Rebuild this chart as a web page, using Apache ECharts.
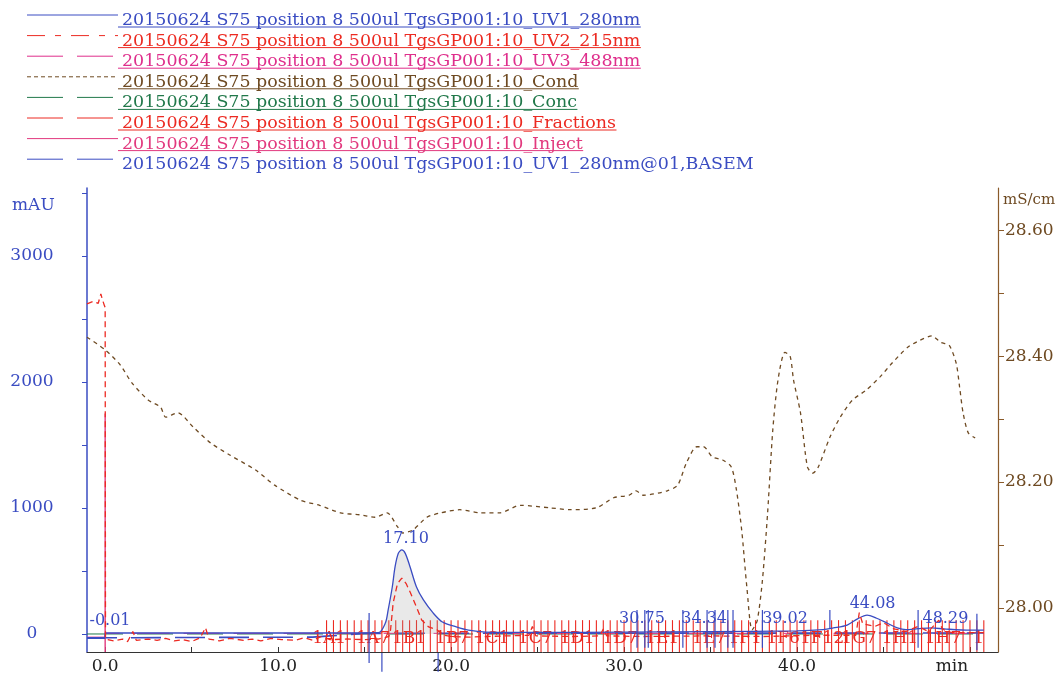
<!DOCTYPE html>
<html><head><meta charset="utf-8">
<script src="https://cdn.jsdelivr.net/npm/echarts@6/dist/echarts.min.js"></script>
<style>html,body{margin:0;padding:0;background:#fff}#c{width:1063px;height:679px}</style>
</head><body><div id="c"></div>
<script>
// ---------------- data ----------------
const legendNames = [
  '20150624 S75 position 8 500ul TgsGP001:10_UV1_280nm',
  '20150624 S75 position 8 500ul TgsGP001:10_UV2_215nm',
  '20150624 S75 position 8 500ul TgsGP001:10_UV3_488nm',
  '20150624 S75 position 8 500ul TgsGP001:10_Cond',
  '20150624 S75 position 8 500ul TgsGP001:10_Conc',
  '20150624 S75 position 8 500ul TgsGP001:10_Fractions',
  '20150624 S75 position 8 500ul TgsGP001:10_Inject',
  '20150624 S75 position 8 500ul TgsGP001:10_UV1_280nm@01,BASEM'
];
const xTickValues = [0,5,10,15,20,25,30,35,40,45,50];
const xLabelValues = [0,10,20,30,40,50];
const leftTickValues = [0,500,1000,1500,2000,2500,3000,3500];
const leftLabelValues = [0,1000,2000,3000];
const rightTickValues = [28.0,28.1,28.2,28.3,28.4,28.5,28.6];
const rightLabelValues = [28.0,28.2,28.4,28.6];

const uv1T = [-1.05,-0.02,0,5,10,14,15.8,16.2,16.36,16.6,16.76,16.95,17.15,17.35,17.63,18.0,18.4,18.96,19.5,20.3,21.0,22.0,25,30,35,40,41.5,42.1,42.9,43.5,44.05,44.6,45.2,45.8,46.3,47.0,47.8,48.5,50,50.8];
const uv1V = [-35,-35,8,8,8,8,10,87,190,373,532,640,667,640,532,373,270,167,95,56,30,15,12,15,18,25,35,48,71,120,150,125,87,48,35,42,48,40,30,30];

const uv2T = [-1.05,-0.7,-0.4,-0.25,-0.15,-0.05,0,0.02,0.5,1.0,1.3,1.6,1.8,2.5,3.0,3.5,4.0,4.5,5.0,5.5,5.8,6.0,6.6,7.2,8.0,8.5,9.0,9.6,10.2,11.0,11.5,12.0,12.5,13.0,14.0,15.0,15.8,
  16.4,16.5,16.65,16.9,17.15,17.4,17.63,18.0,18.3,18.7,19.2,19.6,
  20.0,21.0,22.0,24.5,24.7,24.9,27.0,28.6,28.8,29.0,31.0,35.0,38.0,41.0,43.4,43.6,43.8,44.5,45.0,45.6,46.3,47.0,47.6,48.2,48.4,48.7,49.0,50.0,50.8];
const uv2V = [2620,2640,2625,2700,2650,2610,2590,-40,-55,-40,-60,20,-50,-40,-50,-35,-55,-45,-60,-30,50,-40,-55,-35,-50,-40,-55,-35,-45,-50,-30,-50,-20,-45,-40,-45,-40,
  -20,32,246,400,444,400,333,214,111,56,32,-10,
  -20,-25,-20,-10,60,-15,-20,-15,40,-15,-20,-15,-20,-10,-10,170,80,60,90,40,20,60,20,110,40,20,10,10,10];

const uv3T = [-1.05,0,0.02,50.8];
const uv3V = [-25,-25,5,5];
const concT = [-1.05,50.8];
const concV = [0,0];
const basemT = [-1.05,0,0.02,12,15,50.8];
const basemV = [-30,-30,-25,-25,5,8];
const injectT = [0,0];
const injectV = [-143,1750];

const condT = [-1.05,0,0.87,1.56,2.5,3.2,3.5,4.2,5.1,6.1,7.2,8.7,9.8,11.3,12.4,13.6,14.7,15.6,16.3,16.9,17.2,17.8,18.6,19.4,20.5,21.7,22.8,24.0,25.7,26.9,28.4,29.4,30.3,30.7,31.1,32.5,33.1,33.6,34.2,34.6,35.1,35.7,36.2,36.5,36.8,37.1,37.4,37.7,38.0,38.3,38.6,38.9,39.3,39.6,39.8,40.2,40.6,40.9,41.2,41.9,42.5,43.2,44.0,44.8,45.5,46.4,47.1,47.8,48.3,48.8,49.2,49.4,49.6,49.9,50.3];
const condV = [28.430,28.410,28.386,28.357,28.330,28.319,28.303,28.310,28.287,28.262,28.243,28.219,28.195,28.171,28.163,28.151,28.148,28.144,28.151,28.129,28.119,28.124,28.144,28.151,28.156,28.151,28.151,28.163,28.159,28.156,28.159,28.175,28.179,28.186,28.179,28.186,28.195,28.230,28.256,28.256,28.240,28.235,28.224,28.187,28.124,28.033,27.965,27.980,28.044,28.151,28.283,28.362,28.406,28.400,28.362,28.310,28.224,28.214,28.222,28.271,28.303,28.330,28.346,28.367,28.389,28.414,28.425,28.432,28.422,28.417,28.389,28.351,28.310,28.278,28.270];

const fractionTimes = [12.8,13.2,13.6,14.0,14.4,14.8,15.2,15.6,16.0,16.4,16.8,17.2,17.6,18.0,18.4,18.8,19.2,19.6,20.0,20.4,20.8,21.2,21.6,22.0,22.4,22.8,23.2,23.6,24.0,24.4,24.8,25.2,25.6,26.0,26.4,26.8,27.2,27.6,28.0,28.4,28.8,29.2,29.6,30.0,30.4,30.8,31.2,31.6,32.0,32.4,32.8,33.2,33.6,34.0,34.4,34.8,35.2,35.6,36.0,36.4,36.8,37.2,37.6,38.0,38.4,38.8,39.2,39.6,40.0,40.4,40.8,41.2,41.6,42.0,42.4,42.8,43.2,43.6,44.0,44.4,44.8,45.2,45.6,46.0,46.4,46.8,47.2,47.6,48.0,48.4,48.8,49.2,49.6,50.0,50.4,50.8];
const fractionLabels = ['1A1','1A7','1B1','1B7','1C1','1C7','1D1','1D7','1E1','1E7','1F1','1F6','1F12','1G7','1H1','1H7','1'];
const fractionLabelTimes = [12.95,15.49,17.57,20.06,22.37,24.86,27.28,29.77,32.20,34.91,37.0,39.2,41.45,43.58,45.95,48.44,50.5];

const peakTimes = [-0.01,17.10,30.75,34.34,39.02,44.08,48.29];
const peakHeights = [20,667,30,30,30,150,30];

// peak boundary markers [time, low mAU, high mAU]
const peakMarkers = [[15.26,-230,167],[16.0,-300,-150],[19.25,-300,-150],[30.75,-110,190],[31.2,-110,190],[31.4,-110,190],[33.4,-110,190],[34.8,-110,190],[35.26,-110,190],[36.0,-110,190],[36.3,-110,190],[38.0,-110,190],[41.9,40,190],[47.0,-110,190],[50.4,-130,160]];

// ---------------- styles ----------------
const BLUE = '#3a4cc2', RED = '#ec2a22', MAG = '#df2f8c', BROWN = '#6e4a22', GREEN = '#21784a', PINK = '#e2397e';
const FONT = '"DejaVu Serif", "Liberation Serif", serif';
const legendStyles = [
  {color: BLUE, dash: null, underline: true},
  {color: RED, dash: [18,10,6,10], underline: true},
  {color: MAG, dash: [36,14], underline: true},
  {color: BROWN, dash: [4,3], underline: true},
  {color: GREEN, dash: [36,14], underline: true},
  {color: RED, dash: [36,14], underline: true},
  {color: PINK, dash: null, underline: true},
  {color: BLUE, dash: [36,14], underline: false}
];
const FRAC_LO = -143, FRAC_HI = 110, FRAC_LABEL_LEVEL = -40;

const zip = (a, b) => a.map((t, i) => [t, b[i]]);

// legend graphics
const ctx = document.createElement('canvas').getContext('2d');
function tw(txt, size) { ctx.font = size + 'px ' + FONT; return ctx.measureText(txt).width; }
const legFs = Math.max(12, Math.min(22, 17 * 519 / tw(legendNames[0], 17)));
const graphics = [];
legendNames.forEach((name, i) => {
  const y0 = 15 + 20.6 * i;
  const st = legendStyles[i];
  graphics.push({type: 'line', silent: true, shape: {x1: 27, y1: y0, x2: 118, y2: y0},
    style: {stroke: st.color, lineWidth: 1, lineDash: st.dash}});
  graphics.push({type: 'text', silent: true, x: 122, y: y0 + 5.5,
    style: {text: name, fill: st.color, font: legFs.toFixed(2) + 'px ' + FONT, textAlign: 'left', textVerticalAlign: 'middle'}});
  if (st.underline) {
    const w = tw(name, legFs);
    graphics.push({type: 'line', silent: true, shape: {x1: 118, y1: y0 + 12, x2: 122 + w, y2: y0 + 12},
      style: {stroke: st.color, lineWidth: 1}});
  }
});
graphics.push({type: 'text', silent: true, x: 12, y: 206,
  style: {text: 'mAU', fill: BLUE, font: '17px ' + FONT, textAlign: 'left', textVerticalAlign: 'middle'}});
graphics.push({type: 'text', silent: true, x: 1003, y: 200,
  style: {text: 'mS/cm', fill: BROWN, font: '15px ' + FONT, textAlign: 'left', textVerticalAlign: 'middle'}});

const vlineRender = (color, width) => function (params, api) {
  const t = api.value(0);
  const p1 = api.coord([t, api.value(1)]);
  const p2 = api.coord([t, api.value(2)]);
  return {type: 'line', shape: {x1: p1[0], y1: p1[1], x2: p2[0], y2: p2[1]},
    style: {stroke: color, lineWidth: width}};
};

const peakFill = zip(uv1T, uv1V).filter(p => p[0] >= 16.2 && p[0] <= 19.5);

const option = {
  animation: false,
  backgroundColor: '#fff',
  grid: {left: 87, right: 65, top: 188, bottom: 27, containLabel: false, outerBoundsMode: 'none'},
  xAxis: {
    type: 'value', min: -1.05, max: 51.62,
    axisLine: {show: true, onZero: false, lineStyle: {color: '#333', width: 1}},
    axisTick: {show: true, inside: true, length: 5, customValues: xTickValues, lineStyle: {color: '#333'}},
    axisLabel: {show: true, customValues: xLabelValues, margin: 6, color: '#222', fontFamily: FONT, fontSize: 17,
      formatter: v => v === 50 ? '{m|min}' : v.toFixed(1),
      rich: {m: {fontFamily: FONT, fontSize: 17, color: '#222', padding: [0, 36, 0, 0]}}},
    splitLine: {show: false}
  },
  yAxis: [
    {
      type: 'value', position: 'left', min: -143, max: 3540,
      axisLine: {show: true, onZero: false, lineStyle: {color: BLUE, width: 1.5}},
      axisTick: {show: true, inside: false, length: 5, customValues: leftTickValues, lineStyle: {color: BLUE}},
      axisLabel: {show: true, customValues: leftLabelValues, align: 'center', margin: 55, color: BLUE, fontFamily: FONT, fontSize: 17,
        formatter: v => String(Math.round(v))},
      splitLine: {show: false}
    },
    {
      type: 'value', position: 'right', min: 27.930, max: 28.667,
      axisLine: {show: true, onZero: false, lineStyle: {color: '#8a5a2a', width: 1.2}},
      axisTick: {show: true, inside: false, length: 6, customValues: rightTickValues, lineStyle: {color: '#8a5a2a'}},
      axisLabel: {show: true, customValues: rightLabelValues, margin: 7, color: BROWN, fontFamily: FONT, fontSize: 17,
        formatter: v => v.toFixed(2)},
      splitLine: {show: false}
    }
  ],
  graphic: graphics,
  series: [
    {name: legendNames[4], type: 'line', data: zip(concT, concV), symbol: 'none', lineStyle: {color: GREEN, width: 1, type: [36,14]}, z: 2},
    {name: legendNames[2], type: 'line', data: zip(uv3T, uv3V), symbol: 'none', lineStyle: {color: MAG, width: 1, type: [36,14]}, z: 2},
    {name: legendNames[7], type: 'line', data: zip(basemT, basemV), symbol: 'none', lineStyle: {color: BLUE, width: 1.6, type: [30,14]}, z: 2},
    {name: legendNames[5], type: 'custom', clip: false, z: 3,
      data: fractionTimes.map(t => [t, FRAC_LO, FRAC_HI]),
      encode: {x: 0, y: [1, 2]},
      renderItem: vlineRender(RED, 1.1)},
    {name: legendNames[6], type: 'line', data: zip(injectT, injectV), symbol: 'none', lineStyle: {color: PINK, width: 1.4}, z: 3},
    {name: 'peak area', type: 'line', data: peakFill, symbol: 'none', smooth: 0.3, lineStyle: {width: 0},
      areaStyle: {color: '#9a9a9a', opacity: 0.22, origin: 0}, z: 3},
    {name: legendNames[0], type: 'line', data: zip(uv1T, uv1V), symbol: 'none', smooth: 0.3,
      lineStyle: {color: BLUE, width: 1.3}, z: 5},
    {name: legendNames[1], type: 'line', data: zip(uv2T, uv2V), symbol: 'none',
      lineStyle: {color: RED, width: 1.3, type: [6,4]}, z: 6},
    {name: legendNames[3], type: 'line', yAxisIndex: 1, data: zip(condT, condV), symbol: 'none', smooth: 0.25,
      lineStyle: {color: BROWN, width: 1.3, type: [4,4]}, z: 6},
    {name: 'peak markers', type: 'custom', clip: false, z: 7,
      data: peakMarkers, encode: {x: 0, y: [1, 2]},
      renderItem: vlineRender(BLUE, 1.2)},
    {name: 'peak labels', type: 'scatter', symbolSize: 0, z: 8, itemStyle: {opacity: 1},
      data: peakTimes.map((t, i) => ({value: [t, peakHeights[i]], name: t.toFixed(2)})),
      label: {show: true, position: 'top', distance: 3, offset: [5, 0], formatter: '{b}', color: BLUE, opacity: 1, fontFamily: FONT, fontSize: 16}},
    {name: 'fraction labels', type: 'scatter', symbolSize: 0, z: 4, itemStyle: {opacity: 1},
      data: fractionLabelTimes.map((t, i) => ({value: [t, FRAC_LABEL_LEVEL], name: fractionLabels[i]})),
      label: {show: true, position: 'inside', formatter: '{b}', color: RED, opacity: 1, fontFamily: FONT, fontSize: 17}}
  ]
};
const chart = echarts.init(document.getElementById('c'), null, {renderer: 'canvas'});
chart.setOption(option);
</script>
</body></html>
